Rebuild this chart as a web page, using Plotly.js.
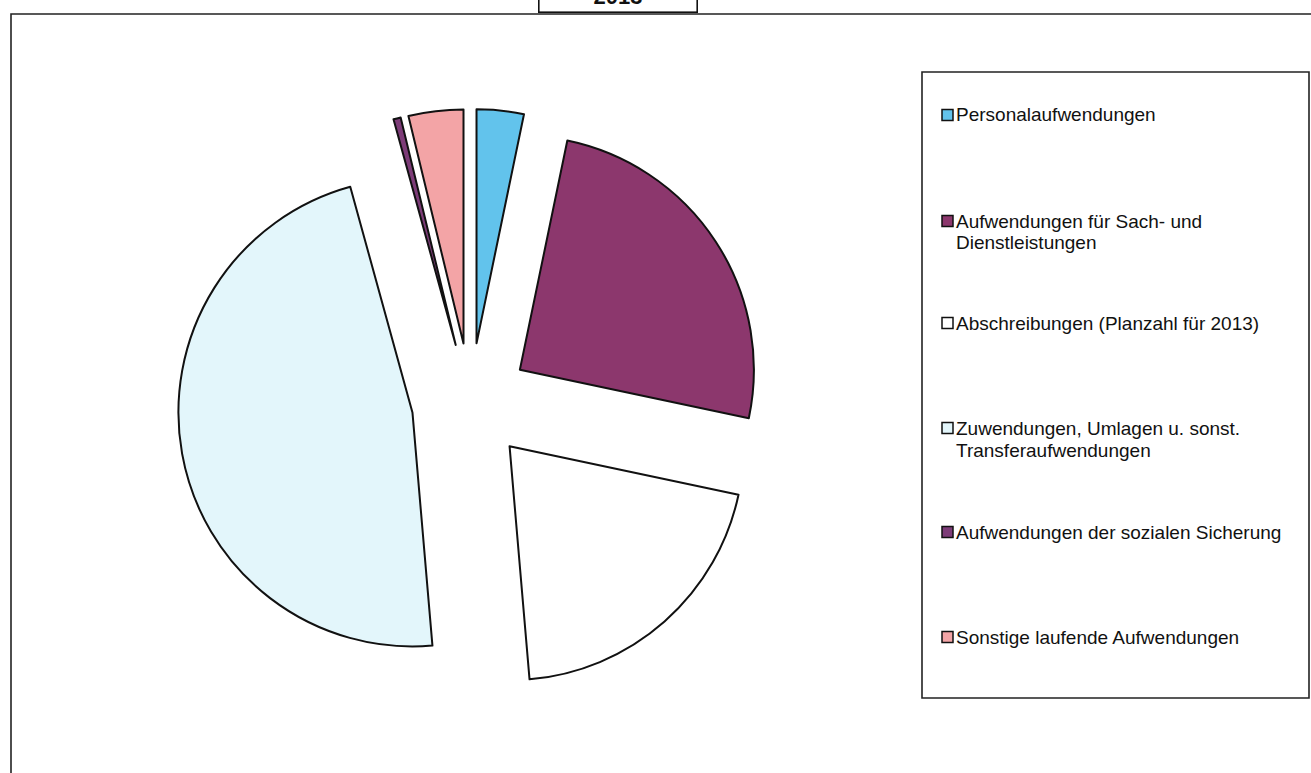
<!DOCTYPE html>
<html>
<head>
<meta charset="utf-8">
<script src="https://cdn.plot.ly/plotly-3.0.1.min.js"></script>
<style>html,body{margin:0;padding:0;background:#fff;}#chart{width:1311px;height:773px;}</style>
</head>
<body>
<div id="chart"></div>
<script>
// ---- data (shares in percent) ----
var categories = [
  "Personalaufwendungen",
  "Aufwendungen für Sach- und<br>Dienstleistungen",
  "Abschreibungen (Planzahl für 2013)",
  "Zuwendungen, Umlagen u. sonst.<br>Transferaufwendungen",
  "Aufwendungen der sozialen Sicherung",
  "Sonstige laufende Aufwendungen"
];
var values = [3.25, 25.06, 20.31, 47.06, 0.5, 3.78];
var colors = ["#62C3EC", "#8C376D", "#FFFFFF", "#E3F6FB", "#7D3C78", "#F3A4A6"];
var titleText = "2013";

// ---- layout helpers ----
var W = 1311, H = 773;
function px(x){ return x / W; }
function py(y){ return 1 - y / H; }

var trace = {
  type: "pie",
  labels: categories,
  values: values,
  sort: false,
  direction: "clockwise",
  rotation: 0,
  pull: categories.map(function(){ return 0.252; }),
  marker: { colors: colors, line: { color: "#111", width: 2 } },
  textinfo: "none",
  hoverinfo: "label+percent",
  showlegend: false,
  domain: { x: [px(177.5), px(763.5)], y: [py(695), py(109)] }
};

var legendFont = { family: "Liberation Sans, Arial, sans-serif", size: 19, color: "#111" };
var annotations = [];
var shapes = [];

// outer frame (extends past right and bottom edges)
shapes.push({ type: "rect", xref: "paper", yref: "paper",
  x0: px(11), x1: px(1340), y0: py(14), y1: py(800),
  line: { color: "#222", width: 1.6 }, fillcolor: "rgba(0,0,0,0)" });
// legend box
shapes.push({ type: "rect", xref: "paper", yref: "paper",
  x0: px(922), x1: px(1309), y0: py(72), y1: py(698),
  line: { color: "#222", width: 1.6 }, fillcolor: "rgba(0,0,0,0)" });

// legend entries built from the category list
var entryY = [115, 221, 323, 428, 532, 637];
var lineStep = 22;
categories.forEach(function(lbl, i){
  var y0 = entryY[i];
  shapes.push({ type: "rect", xref: "paper", yref: "paper",
    x0: px(942), x1: px(953), y0: py(y0 - 5.5), y1: py(y0 + 5.5),
    line: { color: "#111", width: 1.5 }, fillcolor: colors[i] });
  lbl.split("<br>").forEach(function(part, j){
    annotations.push({ xref: "paper", yref: "paper",
      x: px(955), y: py(y0 + j * lineStep), xanchor: "left", yanchor: "middle",
      text: part, showarrow: false, font: legendFont, borderpad: 0 });
  });
});

// title box, partly cut off at the top of the picture (as in the reference)
annotations.push({ xref: "paper", yref: "paper",
  x: px(617.5), y: py(13), xanchor: "center", yanchor: "bottom",
  text: "<b>" + titleText + "</b>", showarrow: false,
  font: { family: "Liberation Sans, Arial, sans-serif", size: 22, color: "#111" },
  width: 157, height: 30, borderpad: 0, bordercolor: "#111", borderwidth: 1.6,
  bgcolor: "#fff" });

var layout = {
  width: W, height: H,
  margin: { l: 0, r: 0, t: 0, b: 0 },
  paper_bgcolor: "#fff",
  plot_bgcolor: "#fff",
  showlegend: false,
  shapes: shapes,
  annotations: annotations
};

Plotly.newPlot("chart", [trace], layout, { displayModeBar: false, staticPlot: true });
</script>
</body>
</html>
